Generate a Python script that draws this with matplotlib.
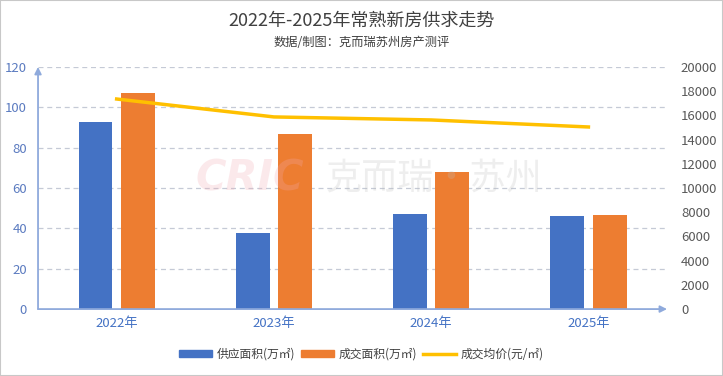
import numpy as np
import matplotlib
matplotlib.use("Agg")
import matplotlib.pyplot as plt
from matplotlib.patches import Rectangle, Patch
from matplotlib.lines import Line2D

plt.rcParams['font.family'] = ['Noto Sans CJK SC', 'DejaVu Sans']

# data
years = ['2022年', '2023年', '2024年', '2025年']
supply = [92.8, 37.8, 47.2, 46.2]       # 供应面积 (万㎡)
deal = [107.2, 86.8, 68.1, 46.6]        # 成交面积 (万㎡)
price = [17350, 15870, 15620, 15040]    # 成交均价 (元/㎡)

BLUE = '#4472C4'
ORANGE = '#ED7D31'
GOLD = '#FFC000'
AXIS_BLUE = '#8FAADC'

fig = plt.figure(figsize=(7.23, 3.76), dpi=100)
fig.patches.append(Rectangle((0, 0), 1, 1, transform=fig.transFigure,
                             fill=False, edgecolor='#C8C8C8', linewidth=1.5))

ax = fig.add_axes([0.0526, 0.178, 0.870, 0.644])
ax2 = ax.twinx()

x = np.arange(len(years))
w = 0.215
ax.bar(x - 0.135, supply, width=w, color=BLUE, zorder=3)
ax.bar(x + 0.135, deal, width=w, color=ORANGE, zorder=3)
ax2.plot(x, price, color=GOLD, linewidth=2.5, zorder=4)

ax.set_xlim(-0.5, 3.5)
ax.set_ylim(0, 120)
ax.set_yticks(range(0, 121, 20))
ax2.set_ylim(0, 20000)
ax2.set_yticks(range(0, 20001, 2000))

ax.set_xticks(x)
ax.set_xticklabels(years)
ax.tick_params(axis='x', length=0, pad=6, labelsize=9.5, labelcolor=BLUE)
ax.tick_params(axis='y', length=0, pad=8, labelsize=9.5, labelcolor='#5B7BC0')
ax2.tick_params(axis='y', length=0, pad=10, labelsize=9.5, labelcolor='#595959')

for a in (ax, ax2):
    for s in a.spines.values():
        s.set_visible(False)

ax.yaxis.grid(True, color='#C5CAD6', linestyle=(0, (4, 3)), linewidth=0.9, zorder=0)
ax.set_axisbelow(True)
# hide the zero gridline (axis line sits there)
ax.get_ygridlines()[0].set_visible(False)

# axis lines with arrows
ax.annotate('', xy=(0, 1.0), xytext=(0, 0), xycoords='axes fraction',
            arrowprops=dict(arrowstyle='-|>', color=AXIS_BLUE, lw=1.3,
                            mutation_scale=10, shrinkA=0, shrinkB=0), zorder=5)
ax.annotate('', xy=(1.0, 0), xytext=(0, 0), xycoords='axes fraction',
            arrowprops=dict(arrowstyle='-|>', color=AXIS_BLUE, lw=1.3,
                            mutation_scale=10, shrinkA=0, shrinkB=0), zorder=5)

# watermark
fig.text(0.345, 0.525, 'CRIC', fontsize=30, fontweight='bold', style='italic',
         family='DejaVu Sans', color='#F2A9B2', alpha=0.25,
         ha='center', va='center')
fig.text(0.60, 0.525, '克而瑞·苏州', fontsize=26, color='#BDBDBD', alpha=0.25,
         ha='center', va='center')

fig.text(0.5, 0.945, '2022年-2025年常熟新房供求走势', fontsize=13,
         color='#404040', ha='center', va='center')
fig.text(0.5, 0.888, '数据/制图：克而瑞苏州房产测评', fontsize=8.8,
         color='#404040', ha='center', va='center')

handles = [Patch(color=BLUE), Patch(color=ORANGE),
           Line2D([0], [0], color=GOLD, linewidth=2.5)]
labels = ['供应面积(万㎡)', '成交面积(万㎡)', '成交均价(元/㎡)']
fig.legend(handles, labels, loc='center', bbox_to_anchor=(0.5, 0.058),
           ncol=3, frameon=False, fontsize=8.5, handlelength=2.8,
           handleheight=0.6, columnspacing=0.5, handletextpad=0.4,
           labelcolor='#404040')

fig.savefig('out.png', dpi=100)
